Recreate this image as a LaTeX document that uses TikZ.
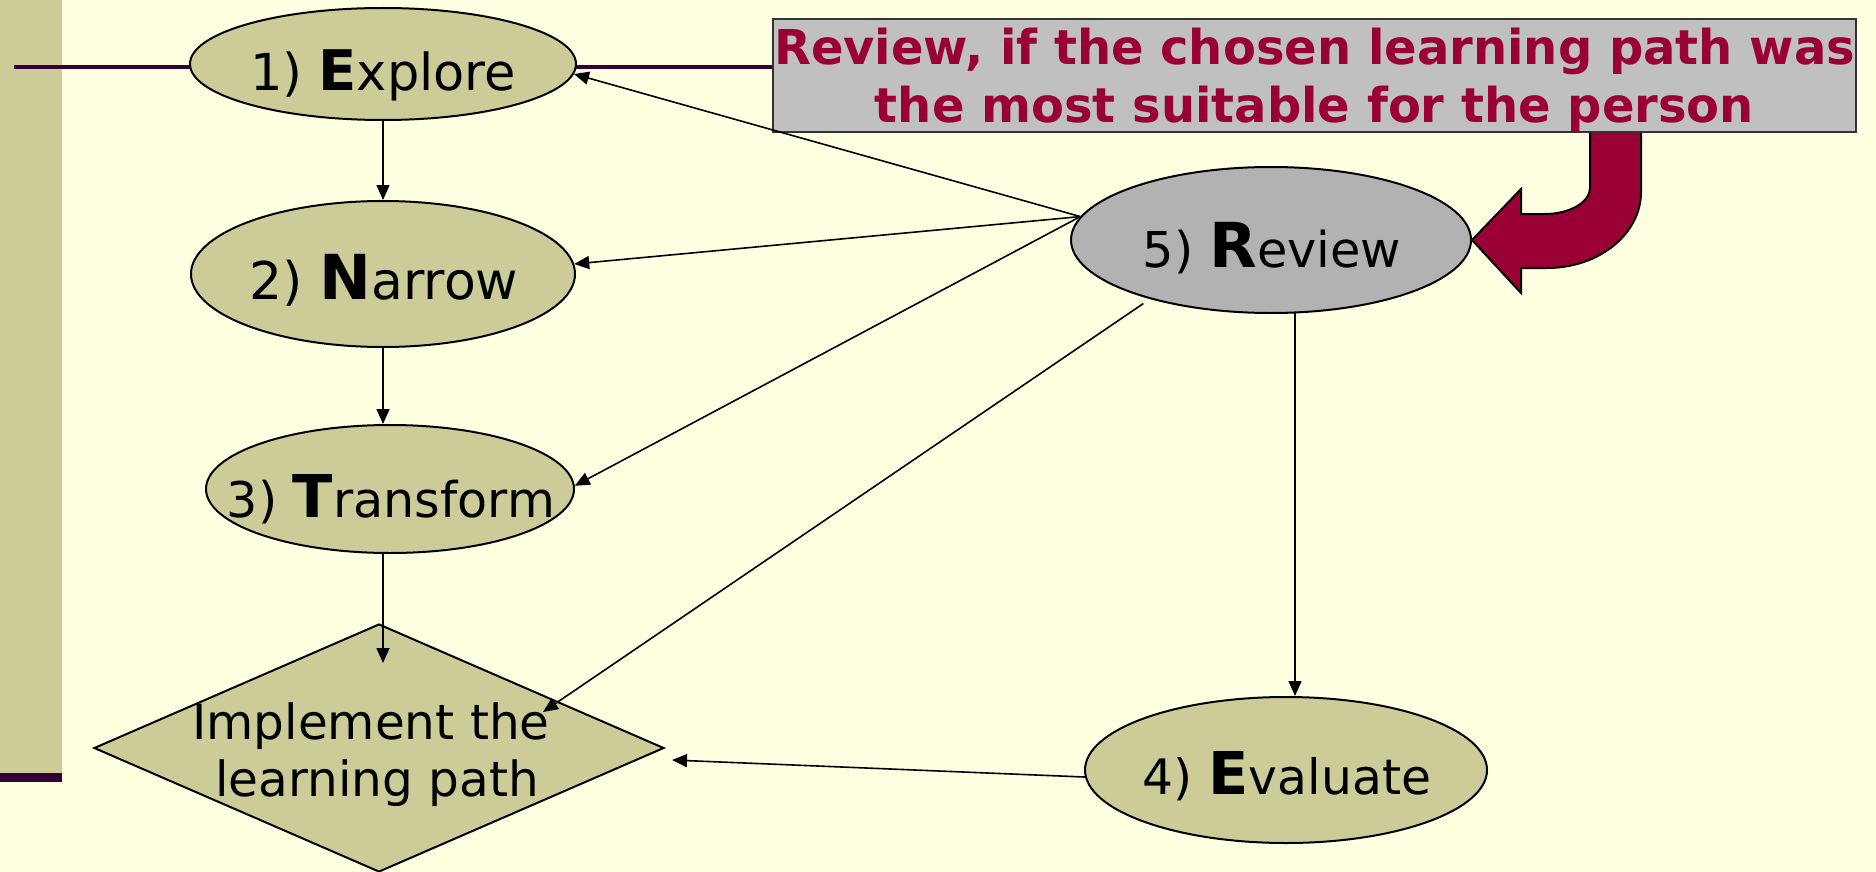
\documentclass[tikz,border=0pt]{standalone}
\usepackage{fontspec}
\setmainfont{DejaVu Sans}
\usetikzlibrary{shapes.geometric,arrows.meta,calc,backgrounds}

\definecolor{bg}{HTML}{FFFFE1}
\definecolor{olive}{HTML}{CCCC99}
\definecolor{plum}{HTML}{330033}
\definecolor{wine}{HTML}{990033}
\definecolor{boxgray}{HTML}{C0C0C0}
\definecolor{revgray}{HTML}{B2B2B2}

% label "n) Word" with a larger bold initial
\newcommand\stagelabel[4]{\fontsize{#1}{#1}\selectfont #2 {\bfseries\fontsize{#3}{#3}\selectfont #4}}

\begin{document}
\begin{tikzpicture}[x=1pt,y=-1pt,
  stage/.style={ellipse, draw=black, line width=2pt, fill=olive, inner sep=0pt},
  lbl/.style={anchor=base, inner sep=0pt},
  link/.style={line width=1.6pt, -{Triangle[length=15pt,width=13pt]}},
  rail/.style={plum, line width=3.5pt},
]
\useasboundingbox (0,0) rectangle (1876,872);

% stages of the cycle
\node[stage, minimum width=386pt, minimum height=112pt] (explore) at (383,64) {};
\node[lbl] (explorelbl) at (383,91) {\stagelabel{51}{1)}{56}{E}xplore};
\node[stage, minimum width=384pt, minimum height=146pt] (narrow) at (383,274) {};
\node[lbl] (narrowlbl) at (384,299) {\stagelabel{52}{2)}{62}{N}arrow};
\node[stage, minimum width=368pt, minimum height=128pt] (transform) at (390,489) {};
\node[lbl] (transformlbl) at (391,517) {\stagelabel{49.2}{3)}{59}{T}ransform};
\node[stage, fill=revgray, minimum width=400pt, minimum height=146pt] (review) at (1271,240) {};
\node[lbl] (reviewlbl) at (1272,267) {\stagelabel{49.4}{5)}{62}{R}eview};
\node[stage, minimum width=402pt, minimum height=146pt] (evaluate) at (1286,770) {};
\node[lbl] (evaluatelbl) at (1287,794) {\stagelabel{48.8}{4)}{59}{E}valuate};

% implementation step
\node[diamond, draw=black, line width=2pt, fill=olive, inner sep=0pt,
      minimum width=570pt, minimum height=248pt] (impl) at (379,748) {};
\node[lbl, font=\fontsize{48.5}{48.5}\selectfont] (impltexta) at (371,739) {Implement the};
\node[lbl, font=\fontsize{48.5}{48.5}\selectfont] (impltextb) at (377,796) {learning path};

% question box
\node[draw=black!80, line width=2pt, fill=boxgray, minimum width=1083pt,
      minimum height=113pt, inner sep=0pt] (note) at (1314.5,75.5) {};
\node[lbl, text=wine, font=\bfseries\fontsize{48}{48}\selectfont] (notea)
     at (1314.5,65) {Review, if the chosen learning path was};
\node[lbl, text=wine, font=\bfseries\fontsize{48}{48}\selectfont] (noteb)
     at (1314.5,123) {the most suitable for the person};

% background, side bar and rail
\begin{scope}[on background layer]
  \fill[bg] (0,0) rectangle (1876,872);
  \fill[olive] (0,0) rectangle (62,773);
  \fill[plum] (0,773) rectangle (62,782);
  \coordinate (railstart) at (14,67);
  \draw[rail] (railstart) -- (railstart -| note.west);
\end{scope}

% bent arrow from the box into the review stage
\fill[wine, draw=black, line width=2pt, line join=miter]
  (1590,133) -- (1590,188)
  .. controls (1590,202) and (1570,214) .. (1545,214)
  -- (1521,214) -- (1521,189) -- (review.east) -- (1521,293) -- (1521,268)
  -- (1547,268)
  .. controls (1599,268) and (1641,234) .. (1641,192)
  -- (1641,133);

% connectors
\draw[link] (explore.south) -- (narrow.north);
\draw[link] (narrow.south) -- (narrow.south |- transform.north);
\coordinate (implin) at (383,663);
\draw[link] (implin |- transform.south) -- (implin);
\draw[link] (review.173) -- (explore.-3);
\draw[link] (review.173) -- (narrow.3);
\draw[link] (review.173) -- (transform.1);
\coordinate (implside) at (543,712);
\draw[link, shorten <=8pt] (review.206) -- (implside);
\coordinate (revfoot) at (1295,312);
\draw[link] (revfoot) -- (revfoot |- evaluate.north);
\coordinate (implright) at (672,760);
\draw[link] (evaluate.182) -- (implright);
\end{tikzpicture}
\end{document}
